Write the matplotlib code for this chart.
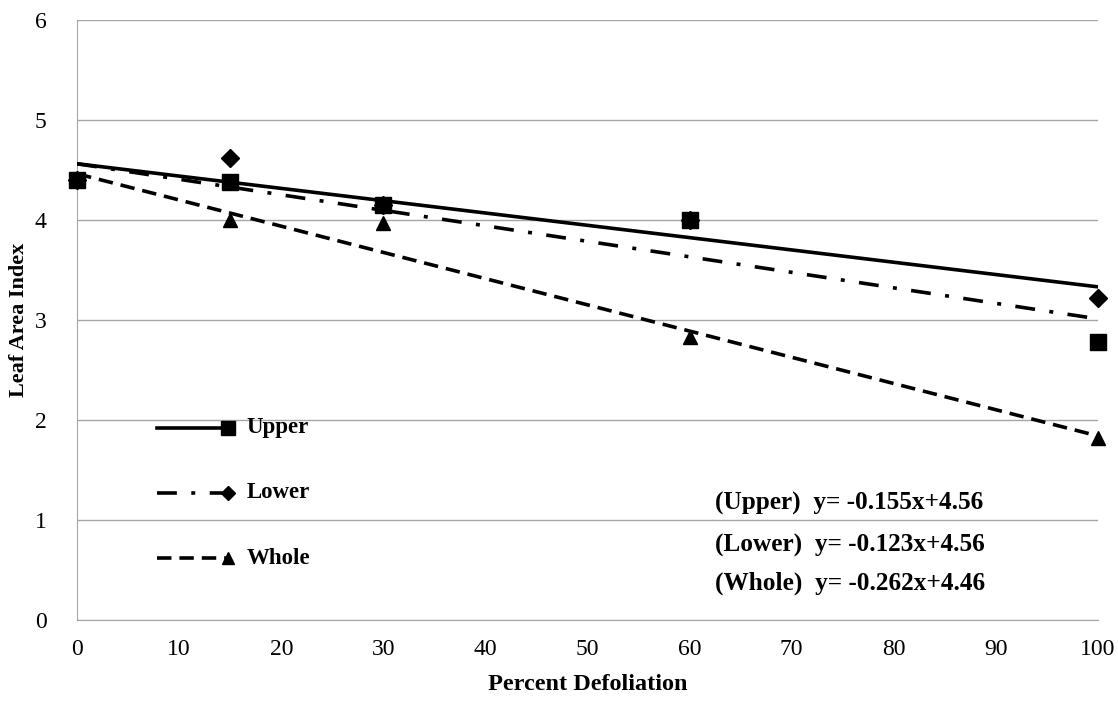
# leaf area index vs. percent defoliation, with linear trend lines
import numpy as np
import matplotlib.pyplot as plt

plt.rcParams['font.family'] = 'Liberation Serif'

defoliation = [0, 15, 30, 60, 100]
lai_upper = [4.40, 4.38, 4.15, 4.00, 2.78]
lai_lower = [4.40, 4.62, 4.15, 4.00, 3.22]
lai_whole = [4.40, 4.00, 3.97, 2.83, 1.82]

# fitted equations, x in tens of percent
eq_names = ['Upper', 'Lower', 'Whole']
eq_slopes = [-0.155, -0.123, -0.262]
eq_intercepts = [4.56, 4.56, 4.46]

dashdot = (0, (5.5, 4.0, 1.1, 4.0))
dashed = (0, (4.0, 2.2))


def trend(i, x):
    return eq_intercepts[i] + eq_slopes[i] * np.asarray(x) / 10.0


def main():
    fig = plt.figure(figsize=(11.18, 7.03), dpi=100)
    ax = fig.add_axes([0.069, 0.118, 0.913, 0.854])

    ax.plot(defoliation, lai_upper, 's', color='black', ms=11, zorder=3, clip_on=False)
    ax.plot(defoliation, lai_lower, 'D', color='black', ms=9, zorder=3, clip_on=False)
    ax.plot(defoliation, lai_whole, '^', color='black', ms=10, zorder=3, clip_on=False)

    xs = np.array([0, 100])
    ax.plot(xs, trend(1, xs), '-', color='black', lw=2.6, zorder=4)
    ax.plot(xs, trend(0, xs), color='black', lw=2.6, ls=dashdot, zorder=4)
    ax.plot(xs, trend(2, xs), color='black', lw=2.6, ls=dashed, zorder=4)

    # hand-made legend
    leg = [('Upper', '-', 's', 1.92, 10), ('Lower', dashdot, 'D', 1.27, 7),
           ('Whole', dashed, '^', 0.62, 8)]
    for name, ls, mk, y, ms in leg:
        ax.plot([7.8, 14.8], [y, y], color='black', lw=2.6, ls=ls, zorder=4)
        ax.plot([14.8], [y], marker=mk, color='black', ms=ms, zorder=4)
        ax.text(16.6, y, name, fontsize=16.5, fontweight='bold', va='center')

    for i, y in enumerate([1.17, 0.75, 0.37]):
        label = '(%s)  y= %.3fx+%.2f' % (eq_names[i], eq_slopes[i], eq_intercepts[i])
        ax.text(62.5, y, label, fontsize=18.2, fontweight='bold', va='center')

    ax.set_xlim(0, 100)
    ax.set_ylim(0, 6)
    ax.set_xticks(range(0, 101, 10))
    ax.set_yticks(range(0, 7))
    ax.yaxis.grid(True, color='#a6a6a6', lw=1)
    ax.set_axisbelow(True)
    for side in ['top', 'right']:
        ax.spines[side].set_visible(False)
    for side in ['left', 'bottom']:
        ax.spines[side].set_color('#a6a6a6')
    ax.tick_params(length=0, labelsize=17)
    ax.tick_params(axis='x', pad=14)
    ax.tick_params(axis='y', pad=22)
    ax.set_xlabel('Percent Defoliation', fontsize=17.5, fontweight='bold', labelpad=10)
    ax.set_ylabel('Leaf Area Index', fontsize=16, fontweight='bold', labelpad=4)

    fig.savefig('out.png', dpi=100)


if __name__ == '__main__':
    main()
